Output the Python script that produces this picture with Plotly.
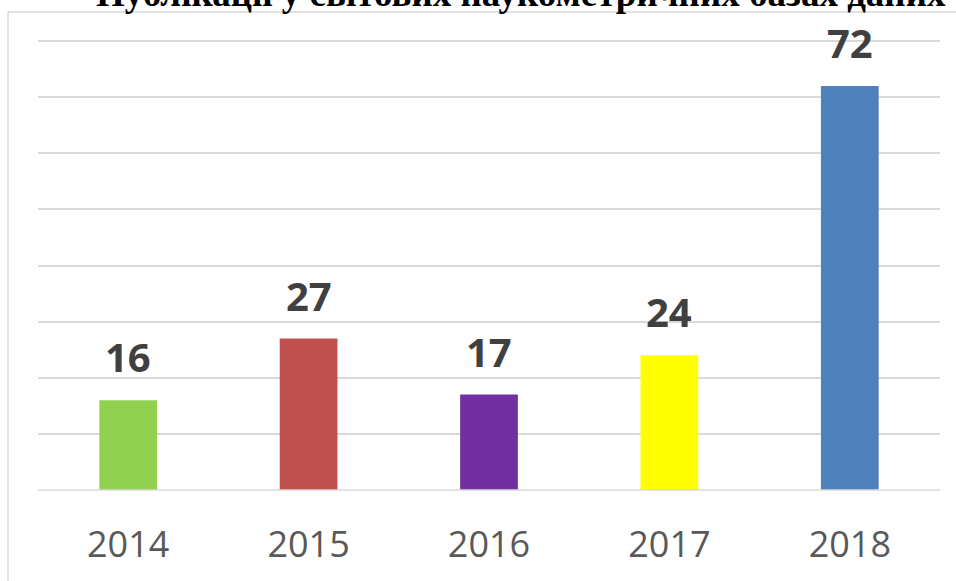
import plotly.graph_objects as go

years = ["2014", "2015", "2016", "2017", "2018"]
counts = [16, 27, 17, 24, 72]
bar_colors = ["#92D050", "#C0504D", "#7030A0", "#FFFF00", "#4F81BD"]
title_text = "Публікації у світових наукометричних базах даних"

W, H = 956, 581
L, R, T, B = 38, 16, 40, 91
pw, ph = W - L - R, H - T - B

def px_x(x):
    return (x - L) / pw

def px_y(y):
    return (H - B - y) / ph

fig = go.Figure()
fig.add_trace(go.Bar(
    x=years, y=counts,
    marker=dict(color=bar_colors, line=dict(width=0)),
    hoverinfo="skip",
))

# value labels above bars (category index positions on the x axis)
annotations = [dict(
    x=i, y=v, xref="x", yref="y", text=str(v), showarrow=False,
    xanchor="center", yanchor="bottom", yshift=14,
    font=dict(family="Open Sans", size=40, color="#404040", weight="bold"),
) for i, v in enumerate(counts)]

annotations.append(dict(
    text=title_text, xref="paper", yref="paper",
    x=px_x(521), y=px_y(16), xanchor="center", yanchor="bottom",
    showarrow=False,
    font=dict(family="Liberation Serif", size=37, color="black", weight="bold"),
))

fig.update_layout(
    width=W, height=H,
    margin=dict(l=L, r=R, t=T, b=B, autoexpand=False),
    paper_bgcolor="white", plot_bgcolor="white",
    showlegend=False,
    bargap=0.68,
    xaxis=dict(type="category", range=[-0.5, len(years) - 0.5],
               showgrid=False, showline=False, zeroline=False,
               tickfont=dict(family="Open Sans", size=36, color="#595959"),
               ticks="", ticklabelstandoff=30, automargin=False),
    yaxis=dict(range=[0, 80.2], dtick=10, showgrid=True, gridcolor="#D9D9D9",
               gridwidth=1.5, showticklabels=False, zeroline=False, showline=False,
               automargin=False),
    shapes=[
        dict(type="line", xref="paper", yref="paper",
             x0=px_x(8), x1=px_x(960), y0=px_y(12), y1=px_y(12),
             line=dict(color="#D9D9D9", width=1.5)),
        dict(type="line", xref="paper", yref="paper",
             x0=px_x(8), x1=px_x(8), y0=px_y(12), y1=px_y(590),
             line=dict(color="#D9D9D9", width=1.5)),
        dict(type="line", xref="paper", yref="paper",
             x0=0, x1=1, y0=0, y1=0,
             line=dict(color="#D9D9D9", width=1.5)),
    ],
    annotations=annotations,
)

fig.write_html("out.html", config={"displayModeBar": False},
               post_script="document.body.style.margin='0';document.body.style.padding='0';")
